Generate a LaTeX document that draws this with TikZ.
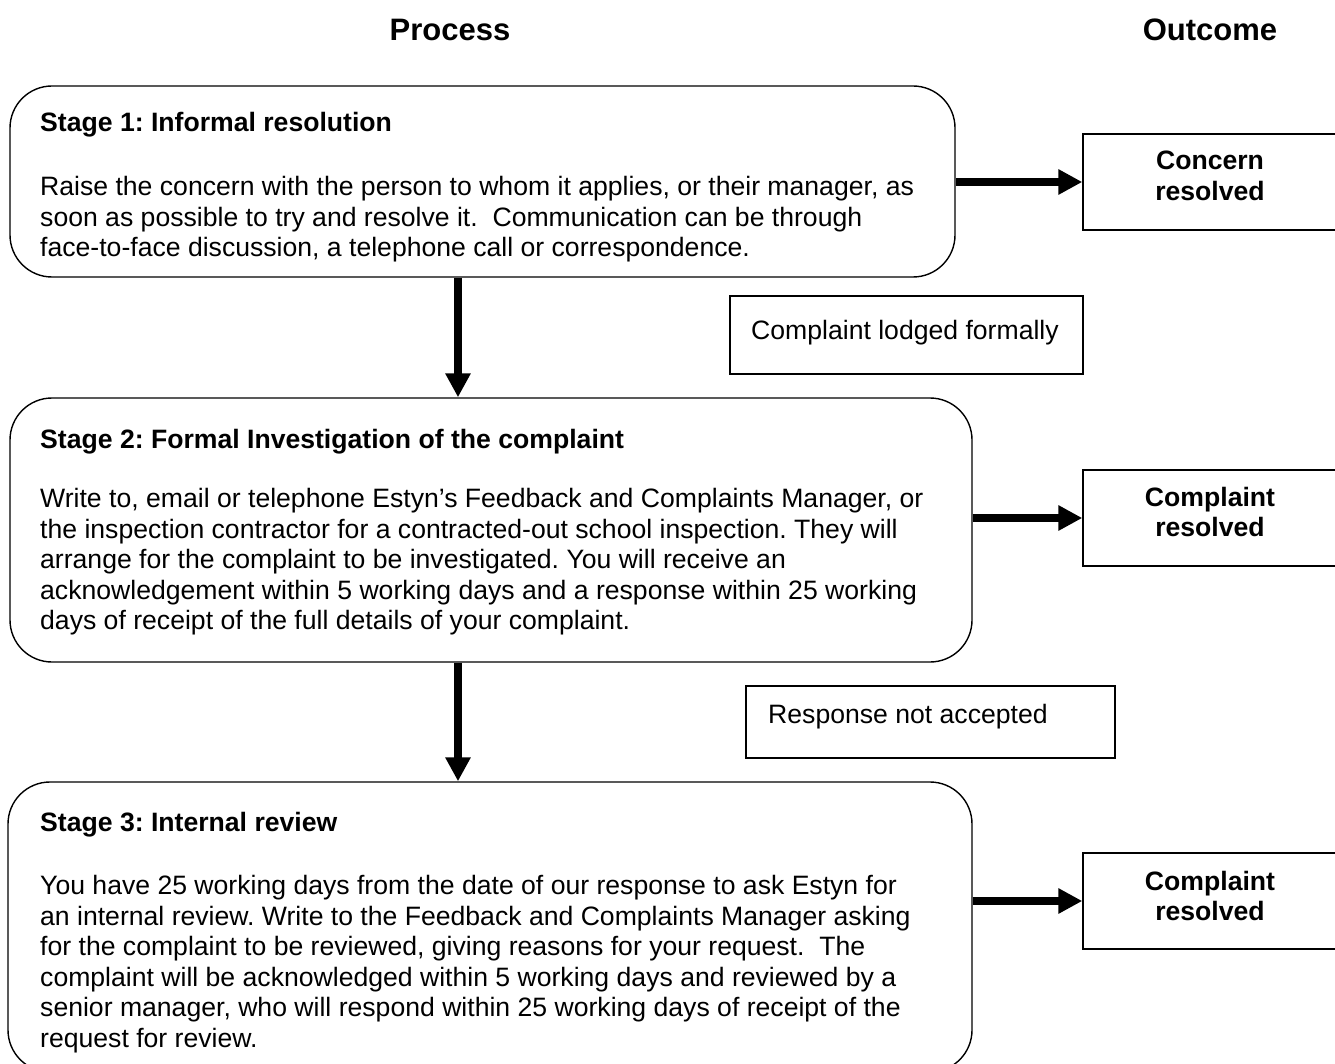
\documentclass[tikz,border=0pt]{standalone}
\usepackage{fontspec}
\setmainfont{Liberation Sans}
\frenchspacing
\usetikzlibrary{arrows.meta}
\tikzset{
  stagebox/.style={draw, rounded corners=42pt, line width=1.4pt, inner sep=0pt},
  plainbox/.style={draw, line width=1.4pt, inner sep=0pt},
  bodytext/.style={anchor=north west, inner sep=0pt, align=left, font=\fontsize{26.6}{30.6}\selectfont},
  titletext/.style={bodytext, font=\fontsize{26.6}{30.6}\selectfont\bfseries},
  outtext/.style={inner sep=0pt, align=center, font=\fontsize{26.6}{30.6}\selectfont\bfseries},
  flow/.style={line width=7.5pt, -{Triangle[length=24pt,width=24pt]}}
}
\begin{document}
\begin{tikzpicture}[x=1pt,y=-1pt]
\useasboundingbox (0,0) rectangle (1335,1064);
\node[font=\fontsize{31}{36}\selectfont\bfseries] (process) at (450,30) {Process};
\node[font=\fontsize{31}{36}\selectfont\bfseries] (outcome) at (1210,30) {Outcome};
% stages
\node[stagebox, minimum width=945pt, minimum height=191pt] (s1) at (482.5,181.5) {};
\node[stagebox, minimum width=962pt, minimum height=264pt] (s2) at (491,530) {};
\node[stagebox, minimum width=964pt, minimum height=290pt] (s3) at (490,927) {};
\node[titletext] (s1title) at (40,112) {Stage 1: Informal resolution};
\node[bodytext] (s1body) at (40,176) {Raise the concern with the person to whom it applies, or their manager, as\\
soon as possible to try and resolve it.\ \ Communication can be through\\
face-to-face discussion, a telephone call or correspondence.};
\node[titletext] (s2title) at (40,429) {Stage 2: Formal Investigation of the complaint};
\node[bodytext] (s2body) at (40,488) {Write to, email or telephone Estyn’s Feedback and Complaints Manager, or\\
the inspection contractor for a contracted-out school inspection. They will\\
arrange for the complaint to be investigated. You will receive an\\
acknowledgement within 5 working days and a response within 25 working\\
days of receipt of the full details of your complaint.};
\node[titletext] (s3title) at (40,812) {Stage 3: Internal review};
\node[bodytext] (s3body) at (40,875) {You have 25 working days from the date of our response to ask Estyn for\\
an internal review. Write to the Feedback and Complaints Manager asking\\
for the complaint to be reviewed, giving reasons for your request.\ \ The\\
complaint will be acknowledged within 5 working days and reviewed by a\\
senior manager, who will respond within 25 working days of receipt of the\\
request for review.};
% outcomes
\node[plainbox, minimum width=254pt, minimum height=96pt] (o1) at (1210,182) {};
\node[plainbox, minimum width=254pt, minimum height=96pt] (o2) at (1210,518) {};
\node[plainbox, minimum width=254pt, minimum height=96pt] (o3) at (1210,901) {};
\node[outtext] (o1text) at (1210,176) {Concern\\resolved};
\node[outtext] (o2text) at (1210,512) {Complaint\\resolved};
\node[outtext] (o3text) at (1210,896) {Complaint\\resolved};
% in-between notes
\node[plainbox, minimum width=353pt, minimum height=78pt] (n1) at (906.5,335) {};
\node[bodytext] (n1text) at (751,320) {Complaint lodged formally};
\node[plainbox, minimum width=369pt, minimum height=72pt] (n2) at (930.5,722) {};
\node[bodytext] (n2text) at (768,704) {Response not accepted};
% arrows
\coordinate (down) at (458,0);
\draw[flow] (s1.east |- o1.west) -- (o1.west);
\draw[flow] (s2.east |- o2.west) -- (o2.west);
\draw[flow] (s3.east |- o3.west) -- (o3.west);
\draw[flow] (down |- s1.south) -- (down |- s2.north);
\draw[flow] (down |- s2.south) -- (down |- s3.north);
\end{tikzpicture}
\end{document}
